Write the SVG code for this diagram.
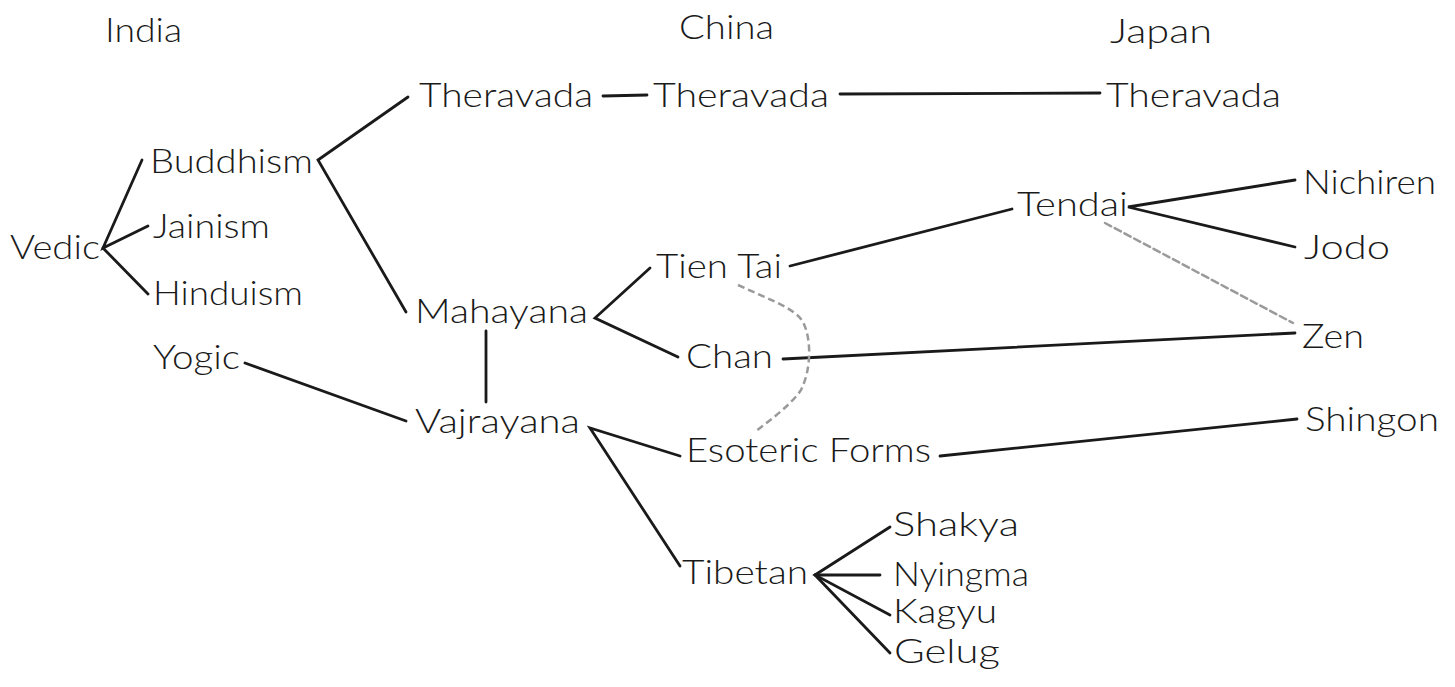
<svg xmlns="http://www.w3.org/2000/svg" width="1455" height="687" viewBox="0 0 1455 687">
<style>
text{font-family:Lato,"Open Sans","Liberation Sans",sans-serif;font-size:33px;font-weight:300;fill:#1a1a1a;}
.c line,.c polyline{stroke:#1a1a1a;stroke-width:2.8;fill:none;stroke-linecap:round;}
.c .d{stroke:#9a9a9a;stroke-width:2.5;fill:none;stroke-dasharray:7 4;}
</style>
<rect width="1455" height="687" fill="#fff"/>
<g id="headers">
<text x="105" y="42" textLength="77" lengthAdjust="spacingAndGlyphs">India</text>
<text x="679" y="39" textLength="95" lengthAdjust="spacingAndGlyphs">China</text>
<text x="1110" y="43" textLength="102" lengthAdjust="spacingAndGlyphs">Japan</text>
</g>
<g class="c" id="connectors">
<polyline points="142,160 103,248 148,226"/>
<line x1="103" y1="248" x2="148" y2="294"/>
<polyline points="408,97 318,160 406,312"/>
<line x1="603" y1="96" x2="647" y2="95"/>
<line x1="840" y1="94" x2="1100" y2="93"/>
<line x1="486" y1="331" x2="486" y2="402"/>
<line x1="245" y1="363" x2="406" y2="421"/>
<polyline points="650,268 595,318 678,357"/>
<polyline points="680,456 590,428 680,566"/>
<line x1="790" y1="266" x2="1012" y2="209"/>
<polyline points="1295,180 1128,207 1295,247"/>
<line x1="783" y1="359" x2="1295" y2="333"/>
<line x1="940" y1="456" x2="1297" y2="419"/>
<polyline points="890,527 815,575 890,615"/>
<line x1="815" y1="575" x2="880" y2="575"/>
<line x1="815" y1="575" x2="890" y2="653"/>
<line class="d" x1="1105" y1="223" x2="1293" y2="323"/>
<path class="d" d="M738,285 C770,300 795,308 803,322 C812,340 811,370 801,390 C790,406 770,420 755,432"/>
</g>
<g id="vedic"><text x="10" y="259" textLength="90" lengthAdjust="spacingAndGlyphs">Vedic</text></g>
<g id="buddhism"><text x="150" y="173" textLength="163" lengthAdjust="spacingAndGlyphs">Buddhism</text></g>
<g id="jainism"><text x="153" y="238" textLength="117" lengthAdjust="spacingAndGlyphs">Jainism</text></g>
<g id="hinduism"><text x="153" y="305" textLength="150" lengthAdjust="spacingAndGlyphs">Hinduism</text></g>
<g id="yogic"><text x="153" y="369" textLength="87" lengthAdjust="spacingAndGlyphs">Yogic</text></g>
<g id="theravada-india"><text x="419" y="107" textLength="174" lengthAdjust="spacingAndGlyphs">Theravada</text></g>
<g id="theravada-china"><text x="653" y="107" textLength="176" lengthAdjust="spacingAndGlyphs">Theravada</text></g>
<g id="theravada-japan"><text x="1106" y="107" textLength="175" lengthAdjust="spacingAndGlyphs">Theravada</text></g>
<g id="mahayana"><text x="415" y="323" textLength="173" lengthAdjust="spacingAndGlyphs">Mahayana</text></g>
<g id="vajrayana"><text x="415" y="433" textLength="165" lengthAdjust="spacingAndGlyphs">Vajrayana</text></g>
<g id="tientai"><text x="656" y="278" textLength="126" lengthAdjust="spacingAndGlyphs">Tien Tai</text></g>
<g id="chan"><text x="686" y="368" textLength="87" lengthAdjust="spacingAndGlyphs">Chan</text></g>
<g id="esoteric"><text x="686" y="462" textLength="245" lengthAdjust="spacingAndGlyphs">Esoteric Forms</text></g>
<g id="tibetan"><text x="682" y="584" textLength="126" lengthAdjust="spacingAndGlyphs">Tibetan</text></g>
<g id="shakya"><text x="893" y="536" textLength="126" lengthAdjust="spacingAndGlyphs">Shakya</text></g>
<g id="nyingma"><text x="893" y="586" textLength="136" lengthAdjust="spacingAndGlyphs">Nyingma</text></g>
<g id="kagyu"><text x="893" y="623" textLength="104" lengthAdjust="spacingAndGlyphs">Kagyu</text></g>
<g id="gelug"><text x="894" y="663" textLength="106" lengthAdjust="spacingAndGlyphs">Gelug</text></g>
<g id="tendai"><text x="1017" y="216" textLength="111" lengthAdjust="spacingAndGlyphs">Tendai</text></g>
<g id="nichiren"><text x="1303" y="194" textLength="133" lengthAdjust="spacingAndGlyphs">Nichiren</text></g>
<g id="jodo"><text x="1304" y="259" textLength="86" lengthAdjust="spacingAndGlyphs">Jodo</text></g>
<g id="zen"><text x="1302" y="348" textLength="62" lengthAdjust="spacingAndGlyphs">Zen</text></g>
<g id="shingon"><text x="1305" y="431" textLength="134" lengthAdjust="spacingAndGlyphs">Shingon</text></g>
</svg>
